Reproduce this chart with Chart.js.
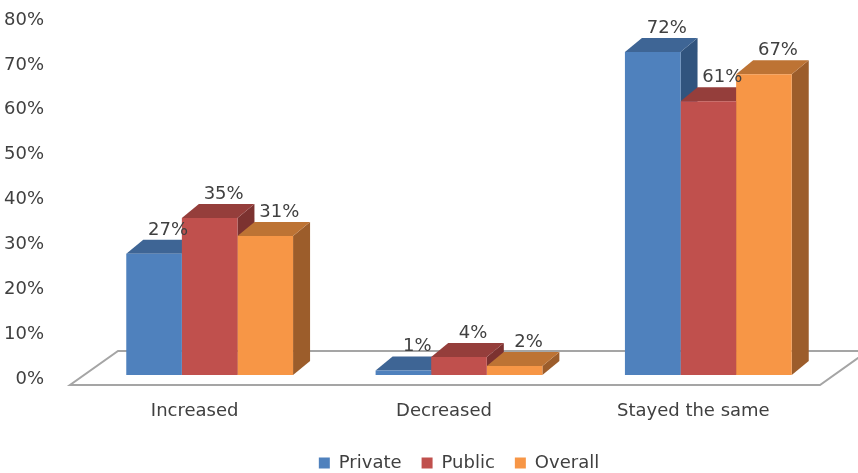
<!DOCTYPE html>
<html>
<head>
<meta charset="utf-8">
<script src="https://cdn.jsdelivr.net/npm/chart.js@4.4.0/dist/chart.umd.min.js"></script>
<style>
    html, body { margin: 0; padding: 0; background: #ffffff; }
    #wrap { width: 858px; height: 473px; }
</style>
</head>
<body>
<div id="wrap"><canvas id="chart"></canvas></div>
<script>
// ========================================
// データ
// ========================================
const categories = ['Increased', 'Decreased', 'Stayed the same'];
const seriesNames = ['Private', 'Public', 'Overall'];
const privateValues = [27, 1, 72];
const publicValues = [35, 4, 61];
const overallValues = [31, 2, 67];

// 面ごとの色 (前面 / 上面 / 側面)
const frontColors = ['#4f81bd', '#c0504d', '#f79646'];
const topColors = ['#3e6595', '#953e3b', '#bd7334'];
const sideColors = ['#31547e', '#7c3230', '#9c5d2b'];

const FONT = "'DejaVu Sans', sans-serif";
const TEXT_COLOR = '#404040';

// 3D の奥行き
const DEPTH_X = 17;
const DEPTH_Y = -14;
const LIFT = -4;

// ========================================
// 床 (フロア) を描く
// ========================================
const floorPlugin = {
    id: 'floor3d',
    beforeDatasetsDraw(chart) {
        const ctx = chart.ctx;
        const area = chart.chartArea;
        const base = chart.scales.y.getPixelForValue(0) + LIFT;
        const frontY = base + 10;
        const backY = base - 24;
        ctx.save();
        ctx.beginPath();
        ctx.moveTo(area.left - 15, frontY);
        ctx.lineTo(area.right - 13, frontY);
        ctx.lineTo(area.right + 35, backY);
        ctx.lineTo(area.left + 33, backY);
        ctx.closePath();
        ctx.fillStyle = '#ffffff';
        ctx.fill();
        ctx.strokeStyle = '#a5a5a5';
        ctx.lineWidth = 2;
        ctx.stroke();
        ctx.restore();
    }
};

// ========================================
// 棒の上面・側面 (全系列を左から順に描き、前面は Chart.js が描く)
// ========================================
const bar3dPlugin = {
    id: 'bar3d',
    beforeDatasetsDraw(chart) {
        const ctx = chart.ctx;
        ctx.save();
        ctx.translate(0, LIFT);
        chart.data.datasets.forEach((ds, i) => {
            chart.getDatasetMeta(i).data.forEach(el => {
                const p = el.getProps(['x', 'y', 'base', 'width'], true);
                const l = p.x - p.width / 2;
                const r = p.x + p.width / 2;
                // 側面
                ctx.beginPath();
                ctx.moveTo(r, p.y);
                ctx.lineTo(r + DEPTH_X, p.y + DEPTH_Y);
                ctx.lineTo(r + DEPTH_X, p.base + DEPTH_Y);
                ctx.lineTo(r, p.base);
                ctx.closePath();
                ctx.fillStyle = sideColors[i];
                ctx.fill();
                // 上面
                ctx.beginPath();
                ctx.moveTo(l, p.y);
                ctx.lineTo(r, p.y);
                ctx.lineTo(r + DEPTH_X, p.y + DEPTH_Y);
                ctx.lineTo(l + DEPTH_X, p.y + DEPTH_Y);
                ctx.closePath();
                ctx.fillStyle = topColors[i];
                ctx.fill();
            });
        });
    },
    afterDatasetsDraw(chart) {
        chart.ctx.restore();
    }
};

// ========================================
// 値ラベル
// ========================================
const valueLabelPlugin = {
    id: 'valueLabels',
    afterDatasetsDraw(chart) {
        const ctx = chart.ctx;
        ctx.save();
        ctx.font = '18px ' + FONT;
        ctx.fillStyle = TEXT_COLOR;
        ctx.textAlign = 'center';
        ctx.textBaseline = 'middle';
        chart.data.datasets.forEach((ds, i) => {
            chart.getDatasetMeta(i).data.forEach((el, j) => {
                const p = el.getProps(['x', 'y'], true);
                ctx.fillText(ds.data[j] + '%', p.x + 14, p.y + LIFT - 24);
            });
        });
        ctx.restore();
    }
};

const allValues = [privateValues, publicValues, overallValues];

new Chart(document.getElementById('chart'), {
    type: 'bar',
    data: {
        labels: categories,
        datasets: seriesNames.map((name, i) => ({
            label: name,
            data: allValues[i],
            backgroundColor: frontColors[i],
            borderWidth: 0,
            categoryPercentage: 0.669,
            barPercentage: 1,
            clip: false
        }))
    },
    options: {
        responsive: true,
        maintainAspectRatio: false,
        animation: false,
        layout: {
            padding: { top: 20, right: 25, bottom: -9, left: 0 }
        },
        plugins: {
            legend: {
                position: 'bottom',
                fullSize: false,
                labels: {
                    boxWidth: 11,
                    boxHeight: 11,
                    padding: 20,
                    color: TEXT_COLOR,
                    font: { family: FONT, size: 18 }
                }
            },
            tooltip: { enabled: false }
        },
        scales: {
            x: {
                grid: { display: false },
                border: { display: false },
                ticks: {
                    color: TEXT_COLOR,
                    font: { family: FONT, size: 18 },
                    padding: 14,
                    labelOffset: -15,
                    maxRotation: 0
                },
                afterFit(scale) {
                    scale.height = 55;
                }
            },
            y: {
                min: 0,
                max: 80,
                grid: { display: false },
                border: { display: false },
                ticks: {
                    stepSize: 10,
                    color: TEXT_COLOR,
                    font: { family: FONT, size: 18 },
                    padding: 33,
                    callback: value => value + '%'
                },
                afterFit(scale) {
                    scale.width = 85;
                    // 目盛りラベルの余白で上端が下がらないようにする
                    scale.paddingTop = 0;
                    scale.paddingBottom = 0;
                }
            }
        }
    },
    plugins: [floorPlugin, bar3dPlugin, valueLabelPlugin]
});
</script>
</body>
</html>
